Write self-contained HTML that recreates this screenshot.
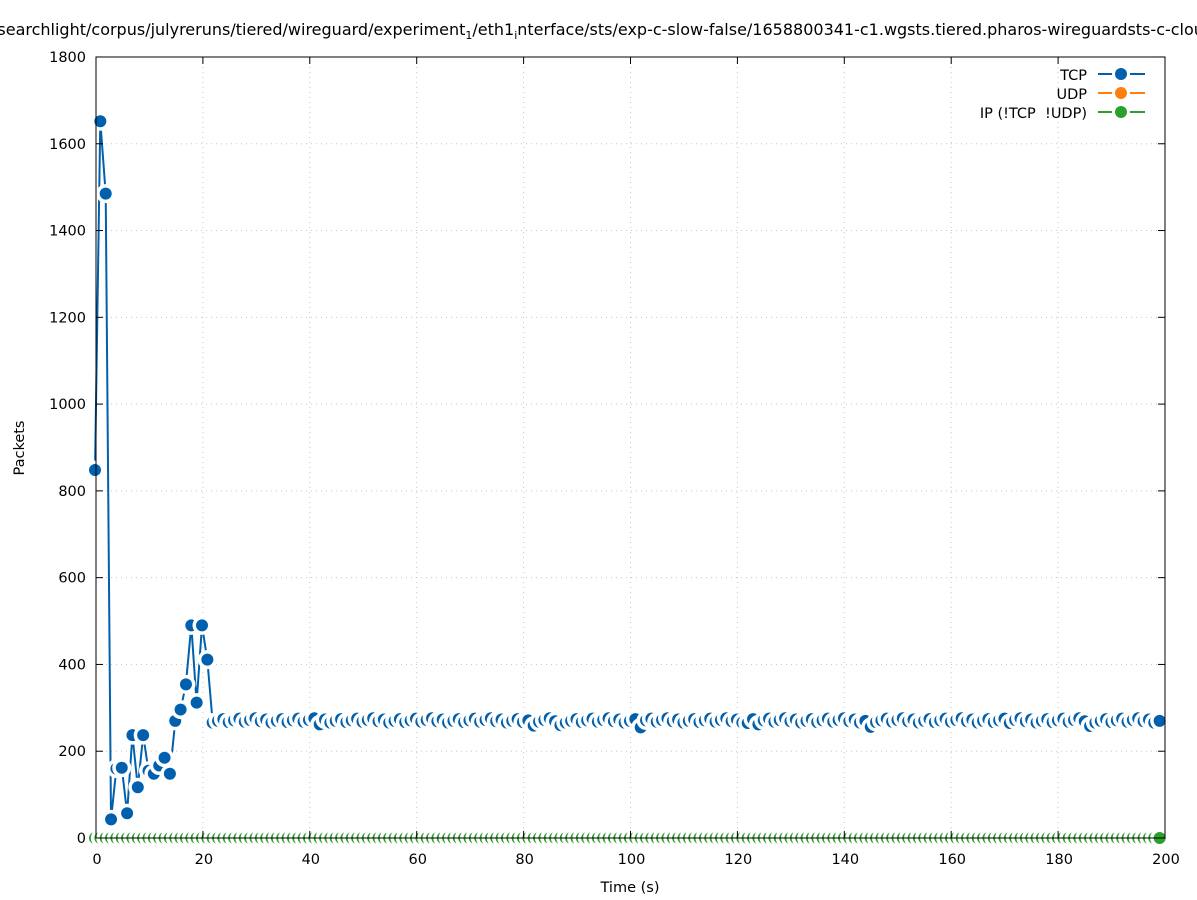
<!DOCTYPE html>
<html><head><meta charset="utf-8"><style>body{margin:0;background:#fff}svg{display:block;font-family:"DejaVu Sans","Liberation Sans",sans-serif}</style></head>
<body>
<svg id="s" width="1197" height="900" xmlns="http://www.w3.org/2000/svg">
<rect width="1197" height="900" fill="#fff"/>
<text x="-8" y="35" font-size="16" fill="#000">/searchlight/corpus/julyreruns/tiered/wireguard/experiment<tspan font-size="11" dy="4">1</tspan><tspan dy="-4">/eth1</tspan><tspan font-size="11" dy="4">i</tspan><tspan dy="-4">nterface/sts/exp-c-slow-false/1658800341-c1.wgsts.tiered.pharos-wireguardsts-c-cloud</tspan></text>
<g id="grid" stroke="#c8c8c8" stroke-width="1" stroke-dasharray="1,4"></g>
<g id="data"></g>
<g id="ax" stroke="#000" stroke-width="1" fill="none"><rect x="96" y="57" width="1069" height="781"/></g>
<g id="lbl" font-size="14.5" fill="#000"></g>
<text x="630" y="892" font-size="14.5" text-anchor="middle">Time (s)</text>
<text x="24" y="448" font-size="14.5" text-anchor="middle" transform="rotate(-90 24 448)">Packets</text>
<g font-size="14.5" text-anchor="end">
<text x="1087" y="80">TCP</text><text x="1087" y="99">UDP</text><text x="1087" y="118">IP (!TCP&#160;&#160;!UDP)</text>
<g stroke-width="2"><line x1="1098" x2="1145" y1="74" y2="74" stroke="#0060ad"/><line x1="1098" x2="1145" y1="93" y2="93" stroke="#ff7f0e"/><line x1="1098" x2="1145" y1="112" y2="112" stroke="#2ca02c"/></g>
<circle cx="1121" cy="74" r="9" fill="#fff"/><circle cx="1121" cy="74" r="6" fill="#0060ad"/>
<circle cx="1121" cy="93" r="9" fill="#fff"/><circle cx="1121" cy="93" r="6" fill="#ff7f0e"/>
<circle cx="1121" cy="112" r="9" fill="#fff"/><circle cx="1121" cy="112" r="6" fill="#2ca02c"/>
</g>
</svg>
<script>
var NS="http://www.w3.org/2000/svg";
function el(p,t,a,txt){var e=document.createElementNS(NS,t);for(var k in a)e.setAttribute(k,a[k]);if(txt!=null)e.textContent=txt;document.getElementById(p).appendChild(e);return e;}
function X(t){return 95+5.35*t;} function Y(v){return 838-v*781/1800;}
for(var i=0;i<=10;i++){var x=96+i*106.9;if(i>0&&i<10)el("grid","line",{x1:x,x2:x,y1:57,y2:838});
el("ax","line",{x1:x,x2:x,y1:838,y2:831});el("ax","line",{x1:x,x2:x,y1:57,y2:64});
el("lbl","text",{x:x+1,y:864,"text-anchor":"middle"},String(i*20));}
for(var j=0;j<=9;j++){var y=838-j*86.78;if(j>0&&j<9)el("grid","line",{x1:96,x2:1165,y1:y,y2:y});
el("ax","line",{x1:96,x2:103,y1:y,y2:y});el("ax","line",{x1:1165,x2:1158,y1:y,y2:y});
el("lbl","text",{x:86,y:y+5,"text-anchor":"end"},String(j*200));}
var early=[848,1652,1485,43,160,162,57,237,117,237,155,148,167,185,148,270,296,354,490,312,490,411];
var dips={42:262,82:259,87:260,102:255,145:256,186:258,122:265,124:262,171:265};
var v=[];for(var t=0;t<=199;t++){if(t<early.length)v.push(early[t]);else{var n=270+((t*37)%11)-4;if(dips[t])n=dips[t];v.push(n);}}
var d="";for(t=0;t<v.length;t++)d+=(t?"L":"M")+X(t).toFixed(1)+","+Y(v[t]).toFixed(1);
el("data","path",{d:"M"+X(0)+",838H"+X(199),stroke:"#2ca02c","stroke-width":2,fill:"none"});
for(t=0;t<v.length;t++){el("data","circle",{cx:X(t),cy:838,r:9.5,fill:"#fff"});el("data","circle",{cx:X(t),cy:838,r:6,fill:"#2ca02c"});}
el("data","path",{d:d,stroke:"#0060ad","stroke-width":2,fill:"none"});
for(t=0;t<v.length;t++){el("data","circle",{cx:X(t),cy:Y(v[t]),r:9.5,fill:"#fff"});el("data","circle",{cx:X(t),cy:Y(v[t]),r:6,fill:"#0060ad"});}
</script>
</body></html>
